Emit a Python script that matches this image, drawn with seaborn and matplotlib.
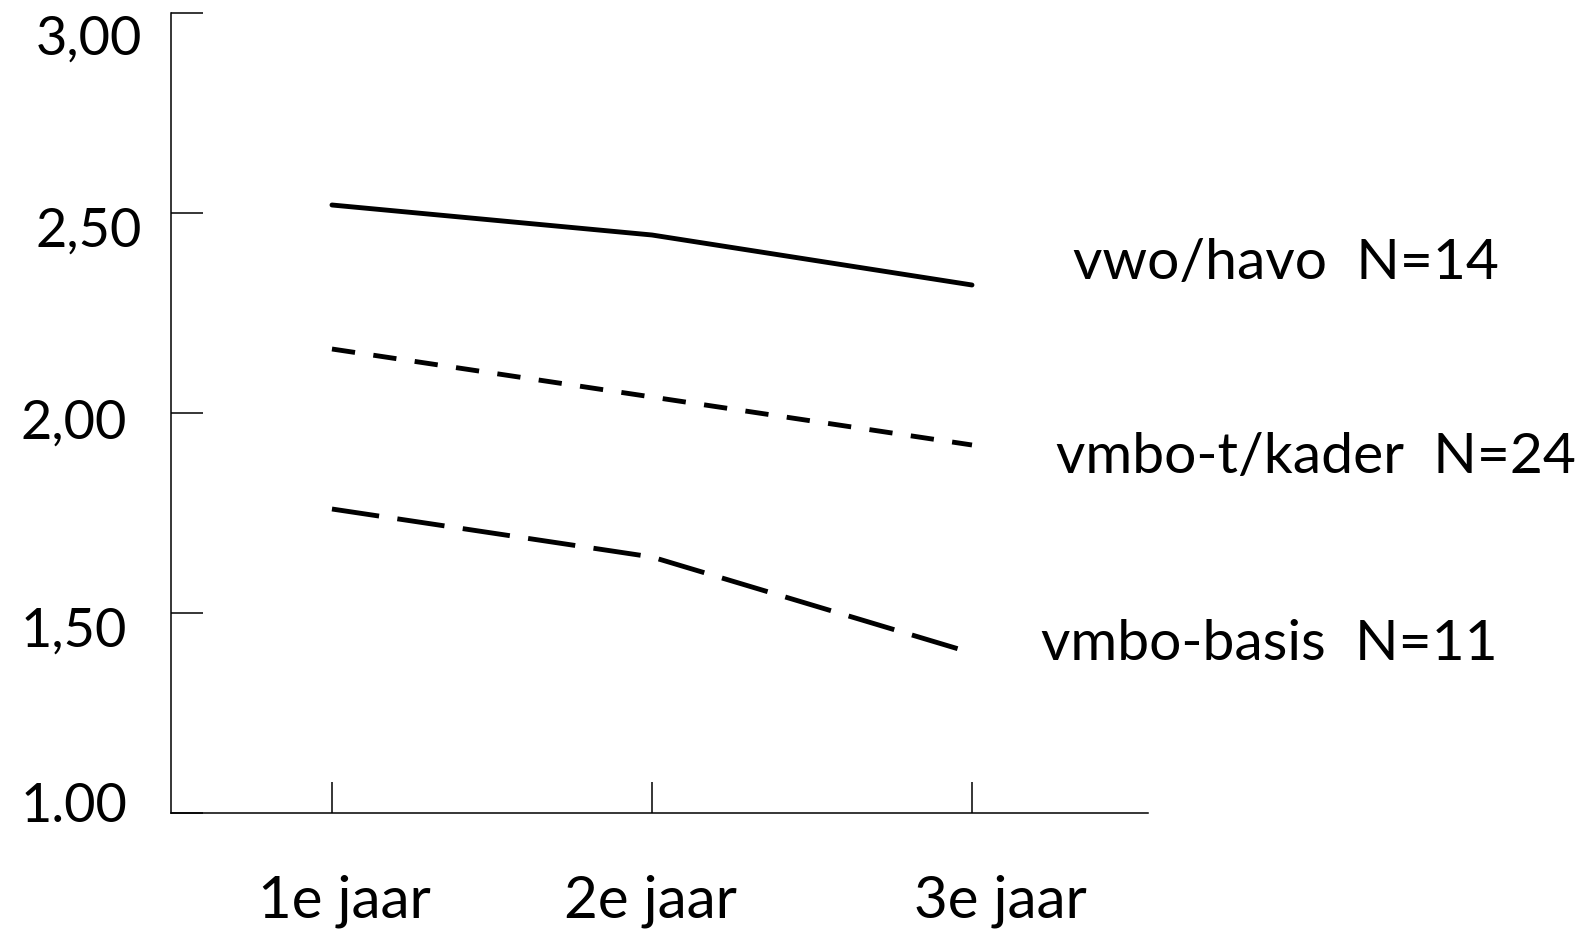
import matplotlib
matplotlib.use('Agg')
import matplotlib.pyplot as plt
import matplotlib.transforms as mtransforms
import pandas as pd
import seaborn as sns

# data
jaren = ['1e jaar', '2e jaar', '3e jaar']
groepen = ['vwo/havo  N=14', 'vmbo-t/kader  N=24', 'vmbo-basis  N=11']
vwo_havo = [2.52, 2.445, 2.32]
vmbo_t_kader = [2.16, 2.04, 1.92]
vmbo_basis = [1.76, 1.64, 1.40]
y_ticks = [1.0, 1.5, 2.0, 2.5, 3.0]
y_ticklabels = ['1.00', '1,50', '2,00', '2,50', '3,00']

rows = []
for groep, waarden in zip(groepen, [vwo_havo, vmbo_t_kader, vmbo_basis]):
    for i, w in enumerate(waarden):
        rows.append({'pos': i, 'score': w, 'groep': groep})
df = pd.DataFrame(rows)

sns.set_style('white')
plt.rcParams['font.family'] = ['Lato', 'DejaVu Sans']

DPI = 100
fig = plt.figure(figsize=(15.92, 9.31), dpi=DPI)
ax = fig.add_axes([171 / 1592, 1 - 813 / 931, (1148 - 171) / 1592, (813 - 13) / 931])

dash_styles = {groepen[0]: '', groepen[1]: (4.8, 3.8), groepen[2]: (9.8, 3.8)}
sns.lineplot(data=df, x='pos', y='score', style='groep', dashes=dash_styles,
             color='black', linewidth=3.5, legend=False, ax=ax,
             sort=False, errorbar=None)

ax.set_xlim(-0.503, 2.55)
ax.set_ylim(1.0, 3.0)
ax.set_xlabel('')
ax.set_ylabel('')
for s in ['top', 'right']:
    ax.spines[s].set_visible(False)
for s in ['left', 'bottom']:
    ax.spines[s].set_linewidth(1.1)
    ax.spines[s].set_color('black')

ax.set_xticks(range(len(jaren)), jaren)
ax.set_yticks(y_ticks, y_ticklabels)
ax.tick_params(axis='y', left=True, direction='in', length=23, width=1.1,
               pad=20.9, labelsize=39, colors='black')
ax.tick_params(axis='x', bottom=True, direction='in', length=22, width=1.1,
               pad=0, labelsize=42, colors='black')

# the labels in the original sit a bit off their ticks
y_shift = [(-15, 9), (-15, 34), (-15, 26), (0, 34), (0, 42)]
for lab, (dx, dy) in zip(ax.get_yticklabels(), y_shift):
    lab.set_va('baseline')
    lab.set_transform(lab.get_transform() + mtransforms.ScaledTranslation(
        dx / DPI, -dy / DPI, fig.dpi_scale_trans))

x_shift = [(12, 105), (-2, 105), (28, 105)]
for lab, (dx, dy) in zip(ax.get_xticklabels(), x_shift):
    lab.set_va('baseline')
    lab.set_transform(lab.get_transform() + mtransforms.ScaledTranslation(
        dx / DPI, -dy / DPI, fig.dpi_scale_trans))

# series names next to the line ends
label_offsets = [(101, 6), (84, -28), (69, -7)]
for groep, waarden, off in zip(groepen, [vwo_havo, vmbo_t_kader, vmbo_basis], label_offsets):
    ax.annotate(groep, xy=(len(waarden) - 1, waarden[-1]), xytext=off,
                textcoords='offset pixels', ha='left', va='baseline',
                fontsize=41, color='black', annotation_clip=False)

fig.savefig('out.png', dpi=DPI, facecolor='white')
